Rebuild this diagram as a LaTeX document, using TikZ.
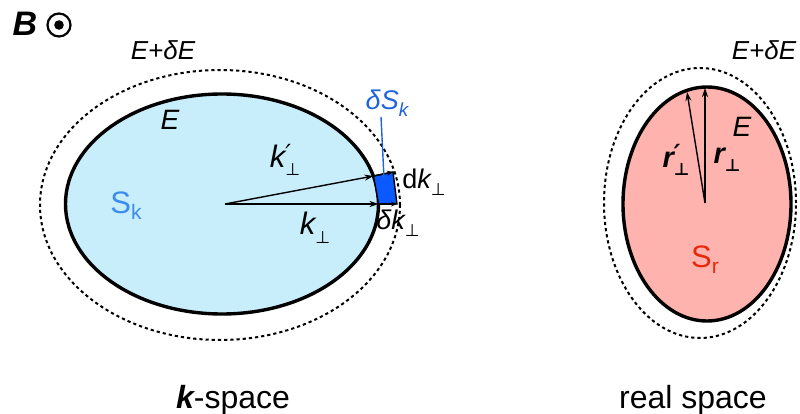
\documentclass[tikz,border=0pt]{standalone}
\usepackage{fontspec}
\setmainfont{Liberation Sans}
\newfontfamily\dv{DejaVu Sans}
\usetikzlibrary{arrows.meta}
\definecolor{skyfill}{HTML}{C8EEFC}
\definecolor{patchblue}{HTML}{0A5AFF}
\definecolor{skblue}{HTML}{3C8CF0}
\definecolor{dsblue}{HTML}{1E64DC}
\definecolor{pinkfill}{HTML}{FFB3AE}
\definecolor{srred}{HTML}{E8280A}
\newcommand{\fs}[1]{\fontsize{#1}{#1}\selectfont}
\newcommand{\prp}{\raisebox{-0.28em}{\fs{17}\dv ⊥}}
\newcommand{\prpprime}{\rlap{\raisebox{0.16em}{\fs{25}\dv\itshape ′}}\raisebox{-0.28em}{\fs{17}\dv ⊥}}
\tikzset{
  lbl/.style={inner sep=0pt, font=\fs{27}},
  solidell/.style={line width=3.4pt},
  dotell/.style={line width=2pt, dash pattern=on 3.2pt off 3pt},
  vec/.style={line width=1.4pt, -{Stealth[length=9pt,width=6pt]}},
  svec/.style={line width=1.4pt, -{Stealth[length=6pt,width=5pt]}}
}
\begin{document}
\begin{tikzpicture}[x=1pt,y=-1pt]
\useasboundingbox (0,0) rectangle (800,414);
% B symbol
\node[lbl, font=\fs{34}\bfseries\itshape] (B) at (25,24) {B};
\coordinate (bc) at (59,25);
\draw[line width=2.2pt] (bc) circle[radius=11.5pt];
\fill (bc) circle[radius=4.8pt];
% ---- k-space ----
\coordinate (kc) at (222,204);
\coordinate (ko) at (225,204);
\draw[dotell] (220,205) ellipse[x radius=180pt, y radius=135pt];
\draw[solidell, fill=skyfill] (kc) ellipse[x radius=156.5pt, y radius=110pt];
\coordinate (pbl) at (378.5,204);
\coordinate (pbr) at (397,204);
\coordinate (ptr) at (393,172);
\coordinate (ptl) at (373.5,176);
\draw[line width=1.4pt, fill=patchblue] (pbl) -- (pbr) -- (ptr) -- (ptl) -- cycle;
\draw[vec] (ko) -- (pbl);
\draw[vec] (ko) -- (ptl);
\draw[svec] (pbl) -- (pbr);
\draw[svec] (ptl) -- (ptr);
\node[lbl] (Eplus) at (163,50) {\fs{26}\itshape E+δE};
\node[lbl] (E) at (170,120) {\fs{28}\itshape E};
\node[lbl, text=skblue] (Sk) at (126,206) {\fs{31}S\raisebox{-0.2em}{\fs{21}k}};
\node[lbl] (kp) at (285,160) {\fs{31}\itshape k\prpprime};
\node[lbl] (kk) at (315,228) {\fs{31}\itshape k\prp};
\node[lbl, text=dsblue] (dS) at (387,103) {\itshape δS\raisebox{-0.25em}{\fs{19}k}};
\coordinate (dSend) at (384,178);
\draw[dsblue, line width=1.4pt] (381,117) -- (dSend);
\node[lbl] (dk) at (424,182) {d{\itshape k}\prp};
\node[lbl] (dkk) at (398,223) {\itshape δk\prp};
% ---- real space ----
\coordinate (rc) at (707,204);
\coordinate (ro) at (705,203);
\draw[dotell] (700,203) ellipse[x radius=96pt, y radius=135pt];
\draw[solidell, fill=pinkfill] (rc) ellipse[x radius=84pt, y radius=117pt];
\coordinate (rt) at (705,88);
\coordinate (rtp) at (687,92);
\draw[vec] (ro) -- (rt);
\draw[vec] (ro) -- (rtp);
\node[lbl] (Eplus2) at (764,50) {\fs{26}\itshape E+δE};
\node[lbl] (E2) at (742,127) {\fs{28}\itshape E};
\node[lbl] (rp) at (676,160) {\fs{29}\bfseries\itshape r\prpprime};
\node[lbl] (rr) at (727,160) {\fs{29}\bfseries\itshape r\prp};
\node[lbl, text=srred] (Sr) at (705,260) {\fs{31}S\raisebox{-0.2em}{\fs{21}r}};
% bottom labels
\node[lbl, font=\fs{32}] (ks) at (233,400) {{\bfseries\itshape k}-space};
\node[lbl, font=\fs{32}] (rs) at (693,400) {real space};
\end{tikzpicture}
\end{document}
